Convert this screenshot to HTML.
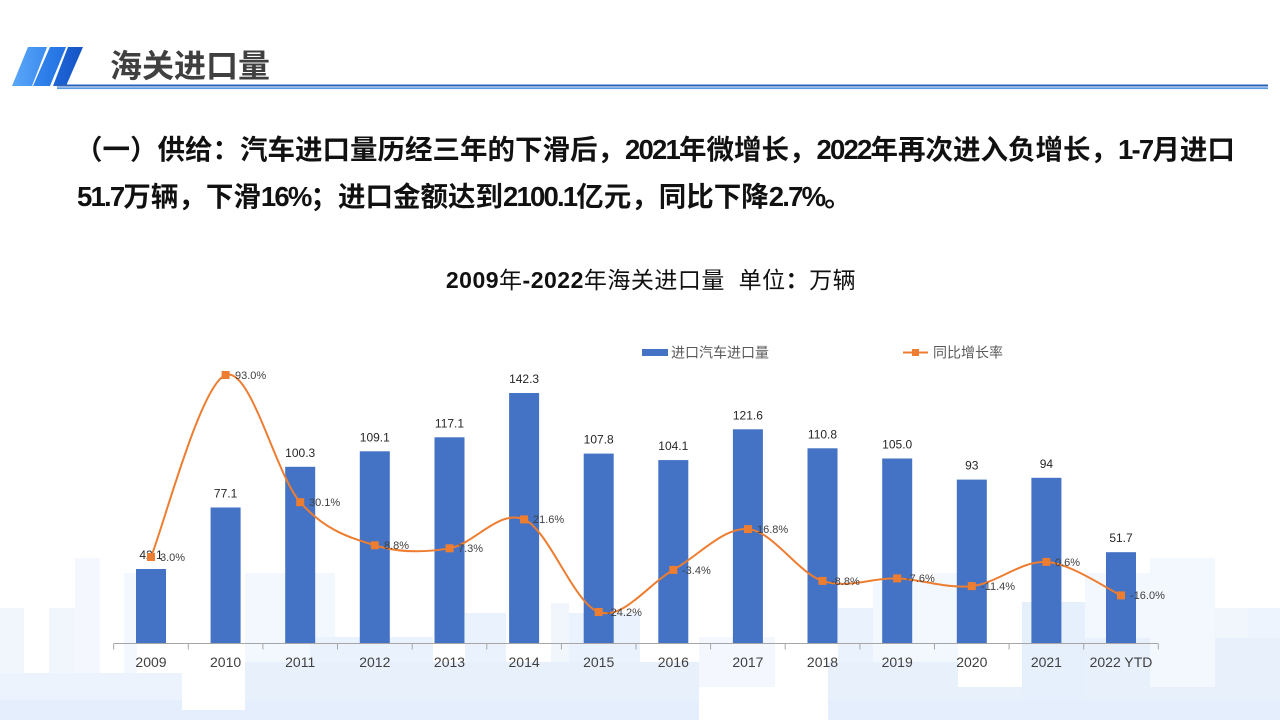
<!DOCTYPE html>
<html>
<head>
<meta charset="utf-8">
<style>
  html,body{margin:0;padding:0;background:#fff;}
  body{width:1280px;height:720px;position:relative;overflow:hidden;font-family:"Liberation Sans","Noto Sans CJK SC",sans-serif;}
  .line{position:absolute;white-space:nowrap;font-weight:bold;font-size:27.5px;color:#111;line-height:1;}
  .lat{letter-spacing:-1.8px;}
  svg{position:absolute;left:0;top:0;}
</style>
</head>
<body>
<svg width="1280" height="720" viewBox="0 0 1280 720" xmlns="http://www.w3.org/2000/svg">
  <defs>
    <linearGradient id="g1" x1="0" y1="0" x2="1" y2="0">
      <stop offset="0" stop-color="#5aa6f7"/><stop offset="1" stop-color="#3b8cf0"/>
    </linearGradient>
    <linearGradient id="g2" x1="0" y1="0" x2="1" y2="0">
      <stop offset="0" stop-color="#3486ee"/><stop offset="1" stop-color="#2371e2"/>
    </linearGradient>
    <linearGradient id="g3" x1="0" y1="0" x2="1" y2="0">
      <stop offset="0" stop-color="#1f66d8"/><stop offset="1" stop-color="#1553c4"/>
    </linearGradient>
  </defs>

  <!-- skyline background -->
  <g>
    <rect x="0" y="608" width="24" height="112" fill="#f1f6fd"/>
    <rect x="49" y="608" width="26" height="112" fill="#f1f6fd"/>
    <rect x="75" y="558" width="25" height="115" fill="#f4f8fe"/>
    <rect x="124" y="573" width="13" height="100" fill="#f3f7fe"/>
    <rect x="245" y="573" width="90" height="100" fill="#f3f7fe"/>
    <rect x="551" y="603" width="18" height="117" fill="#f1f6fd"/>
    <rect x="699" y="637" width="76" height="50" fill="#f4f8fe"/>
    <rect x="873" y="582" width="61" height="100" fill="#f3f7fe"/>
    <rect x="934" y="573" width="24" height="100" fill="#f3f7fe"/>
    <rect x="1085" y="573" width="65" height="65" fill="#f3f7fe"/>
    <rect x="1150" y="558" width="65" height="129" fill="#f3f7fe"/>
    <rect x="1215" y="608" width="33" height="112" fill="#f1f6fd"/>

    <rect x="310" y="637" width="123" height="83" fill="#eaf2fd"/>
    <rect x="465" y="613" width="41" height="107" fill="#eaf2fd"/>
    <rect x="569" y="613" width="71" height="107" fill="#eaf2fd"/>
    <rect x="838" y="608" width="35" height="112" fill="#eaf2fd"/>
    <rect x="1022" y="602" width="63" height="118" fill="#e6effc"/>
    <rect x="1248" y="608" width="32" height="30" fill="#eef4fd"/>
    <rect x="1215" y="638" width="65" height="82" fill="#e8f0fc"/>
    <rect x="0" y="673" width="182" height="47" fill="#ecf3fd"/>
    <rect x="245" y="662" width="454" height="58" fill="#e8f0fc"/>
    <rect x="828" y="662" width="130" height="58" fill="#e8f0fc"/>
    <rect x="958" y="687" width="64" height="33" fill="#e8f0fc"/>
    <rect x="1085" y="638" width="65" height="82" fill="#e8f0fc"/>
    <rect x="1150" y="687" width="65" height="33" fill="#e8f0fc"/>
    <rect x="0" y="700" width="182" height="20" fill="#e5eefc"/>
    <rect x="245" y="700" width="454" height="20" fill="#e5eefc"/>
    <rect x="828" y="700" width="452" height="20" fill="#e5eefc"/>
    <rect x="182" y="710" width="63" height="10" fill="#e5eefc"/>
  </g>

  <!-- header stripes -->
  <polygon points="28,47 47,47 32,86 12,86" fill="url(#g1)"/>
  <polygon points="50,47 66,47 50,86 33,86" fill="url(#g2)"/>
  <polygon points="68,47 83,47 66,86 53,86" fill="url(#g3)"/>
  <text x="110" y="77" font-family="Liberation Sans, Noto Sans CJK SC, sans-serif" font-size="32" font-weight="bold" fill="#404040">海关进口量</text>
  <rect x="57" y="84.5" width="1211" height="2" fill="#2a62b8"/>
  <rect x="57" y="87.3" width="1211" height="1.8" fill="#5b9be0"/>

  <!-- chart title -->
  <text x="651" y="288" text-anchor="middle" letter-spacing="0.5" font-family="Liberation Sans, Noto Sans CJK SC, sans-serif" font-size="23" fill="#111"><tspan font-weight="bold">2009</tspan>年<tspan font-weight="bold">-2022</tspan>年海关进口量&#160;&#160;单位<tspan font-weight="bold">：</tspan>万辆</text>

  <!-- legend -->
  <rect x="642" y="349" width="26" height="7" fill="#4472C4"/>
  <text x="671" y="357.5" font-family="Liberation Sans, Noto Sans CJK SC, sans-serif" font-size="14" fill="#595959">进口汽车进口量</text>
  <line x1="903" y1="352.5" x2="928" y2="352.5" stroke="#ED7D31" stroke-width="2"/>
  <rect x="912" y="349" width="7" height="7" fill="#ED7D31"/>
  <text x="933" y="357.5" font-family="Liberation Sans, Noto Sans CJK SC, sans-serif" font-size="14" fill="#595959">同比增长率</text>

  <!-- bars -->
  <g fill="#4472C4">
    <rect x="136" y="569.0" width="30" height="74.0"/>
    <rect x="210.6" y="507.5" width="30" height="135.5"/>
    <rect x="285.2" y="466.8" width="30" height="176.2"/>
    <rect x="359.8" y="451.3" width="30" height="191.7"/>
    <rect x="434.5" y="437.3" width="30" height="205.7"/>
    <rect x="509.1" y="393.0" width="30" height="250.0"/>
    <rect x="583.7" y="453.6" width="30" height="189.4"/>
    <rect x="658.3" y="460.1" width="30" height="182.9"/>
    <rect x="732.9" y="429.3" width="30" height="213.7"/>
    <rect x="807.5" y="448.3" width="30" height="194.7"/>
    <rect x="882.2" y="458.5" width="30" height="184.5"/>
    <rect x="956.8" y="479.6" width="30" height="163.4"/>
    <rect x="1031.4" y="477.8" width="30" height="165.2"/>
    <rect x="1106" y="552.2" width="30" height="90.8"/>
  </g>

  <!-- axis -->
  <g stroke="#a6a6a6" stroke-width="1">
    <line x1="113.7" y1="643.5" x2="1158.3" y2="643.5"/>
    <line x1="113.7" y1="643.5" x2="113.7" y2="649.5"/>
    <line x1="188.3" y1="643.5" x2="188.3" y2="649.5"/>
    <line x1="262.9" y1="643.5" x2="262.9" y2="649.5"/>
    <line x1="337.5" y1="643.5" x2="337.5" y2="649.5"/>
    <line x1="412.2" y1="643.5" x2="412.2" y2="649.5"/>
    <line x1="486.8" y1="643.5" x2="486.8" y2="649.5"/>
    <line x1="561.4" y1="643.5" x2="561.4" y2="649.5"/>
    <line x1="636.0" y1="643.5" x2="636.0" y2="649.5"/>
    <line x1="710.6" y1="643.5" x2="710.6" y2="649.5"/>
    <line x1="785.2" y1="643.5" x2="785.2" y2="649.5"/>
    <line x1="859.9" y1="643.5" x2="859.9" y2="649.5"/>
    <line x1="934.5" y1="643.5" x2="934.5" y2="649.5"/>
    <line x1="1009.1" y1="643.5" x2="1009.1" y2="649.5"/>
    <line x1="1083.7" y1="643.5" x2="1083.7" y2="649.5"/>
    <line x1="1158.3" y1="643.5" x2="1158.3" y2="649.5"/>
  </g>
  <g font-family="Liberation Sans, Noto Sans CJK SC, sans-serif" font-size="14" fill="#404040" text-anchor="middle">
    <text x="151" y="667">2009</text>
    <text x="225.6" y="667">2010</text>
    <text x="300.2" y="667">2011</text>
    <text x="374.8" y="667">2012</text>
    <text x="449.5" y="667">2013</text>
    <text x="524.1" y="667">2014</text>
    <text x="598.7" y="667">2015</text>
    <text x="673.3" y="667">2016</text>
    <text x="747.9" y="667">2017</text>
    <text x="822.5" y="667">2018</text>
    <text x="897.2" y="667">2019</text>
    <text x="971.8" y="667">2020</text>
    <text x="1046.4" y="667">2021</text>
    <text x="1121" y="667">2022 YTD</text>
  </g>

  <!-- bar value labels -->
  <g font-family="Liberation Sans, sans-serif" font-size="12" fill="#262626" text-anchor="middle">
    <text x="151" y="559">42.1</text>
    <text x="225.6" y="497.5">77.1</text>
    <text x="300.2" y="456.8">100.3</text>
    <text x="374.8" y="441.3">109.1</text>
    <text x="449.5" y="427.3">117.1</text>
    <text x="524.1" y="383">142.3</text>
    <text x="598.7" y="443.6">107.8</text>
    <text x="673.3" y="450.1">104.1</text>
    <text x="747.9" y="419.3">121.6</text>
    <text x="822.5" y="438.3">110.8</text>
    <text x="897.2" y="448.5">105.0</text>
    <text x="971.8" y="469.6">93</text>
    <text x="1046.4" y="467.8">94</text>
    <text x="1121" y="542.2">51.7</text>
  </g>

  <!-- growth line -->
  <path d="M151,557 C163.4,526.7 200.7,384.1 225.6,375 C250.5,365.9 275.3,473.8 300.2,502.2 C325.1,530.6 349.9,537.6 374.8,545.3 C399.7,553.0 424.6,552.6 449.5,548.3 C474.4,544.0 499.2,508.8 524.1,519.4 C549.0,530.0 573.8,603.6 598.7,612.0 C623.6,620.4 648.4,583.7 673.3,569.9 C698.2,556.1 723.0,527.3 747.9,529.1 C772.8,530.9 797.6,572.7 822.5,580.9 C847.4,589.1 872.3,577.5 897.2,578.4 C922.1,579.3 946.9,588.9 971.8,586.1 C996.7,583.4 1021.5,560.4 1046.4,561.9 C1071.3,563.5 1108.6,589.8 1121.0,595.4" fill="none" stroke="#ED7D31" stroke-width="2"/>
  <g fill="#ED7D31">
    <rect x="147" y="553" width="8" height="8"/>
    <rect x="221.6" y="371" width="8" height="8"/>
    <rect x="296.2" y="498.2" width="8" height="8"/>
    <rect x="370.8" y="541.3" width="8" height="8"/>
    <rect x="445.5" y="544.3" width="8" height="8"/>
    <rect x="520.1" y="515.4" width="8" height="8"/>
    <rect x="594.7" y="608" width="8" height="8"/>
    <rect x="669.3" y="565.9" width="8" height="8"/>
    <rect x="743.9" y="525.1" width="8" height="8"/>
    <rect x="818.5" y="576.9" width="8" height="8"/>
    <rect x="893.2" y="574.4" width="8" height="8"/>
    <rect x="967.8" y="582.1" width="8" height="8"/>
    <rect x="1042.4" y="557.9" width="8" height="8"/>
    <rect x="1117" y="591.4" width="8" height="8"/>
  </g>
  <g font-family="Liberation Sans, sans-serif" font-size="11" fill="#404040">
    <text x="160" y="561">3.0%</text>
    <text x="235" y="379">93.0%</text>
    <text x="309" y="506">30.1%</text>
    <text x="384" y="549">8.8%</text>
    <text x="458" y="552">7.3%</text>
    <text x="533" y="523">21.6%</text>
    <text x="607" y="616">-24.2%</text>
    <text x="682" y="574">-3.4%</text>
    <text x="757" y="533">16.8%</text>
    <text x="831" y="585">-8.8%</text>
    <text x="906" y="582">-7.6%</text>
    <text x="981" y="590">-11.4%</text>
    <text x="1055" y="566">0.6%</text>
    <text x="1130" y="599">-16.0%</text>
  </g>
</svg>

<div class="line" style="left:75px;top:136px;">（一）供给：汽车进口量历经三年的下滑后，<span class="lat">2021</span>年微增长，<span class="lat">2022</span>年再次进入负增长，<span class="lat">1-7</span>月进口</div>
<div class="line" style="left:77px;top:183px;"><span class="lat">51.7</span>万辆，下滑<span class="lat">16%</span>；进口金额达到<span class="lat">2100.1</span>亿元，同比下降<span class="lat">2.7%</span>。</div>
</body>
</html>
